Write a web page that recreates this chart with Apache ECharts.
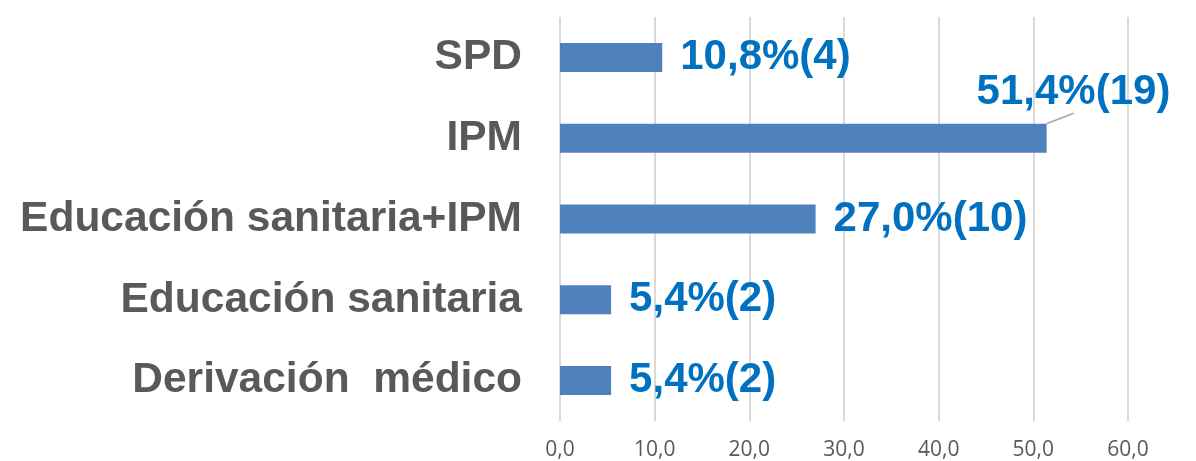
<!DOCTYPE html>
<html lang="es">
<head>
    <meta charset="UTF-8">
    <title>Intervenciones</title>
    <script src="https://cdn.jsdelivr.net/npm/echarts@6/dist/echarts.min.js"></script>
    <style>
        html, body { margin: 0; padding: 0; background: #fff; }
    </style>
</head>
<body>
<div id="chart" style="width: 1196px;height: 461px"></div>
<script type="text/javascript">
    // categorías de abajo hacia arriba
    var categories = ['Derivación  médico', 'Educación sanitaria', 'Educación sanitaria+IPM', 'IPM', 'SPD'];
    var percents = [5.4, 5.4, 27.0, 51.4, 10.8];
    var counts = [2, 2, 10, 19, 4];
    var xTicks = [0, 10, 20, 30, 40, 50, 60];
    var movedLabel = 3; // IPM: etiqueta desplazada con línea guía

    var chart = echarts.init(document.getElementById('chart'));

    function fmt(v, digits) {
        return v.toFixed(digits).replace('.', ',');
    }

    var barData = percents.map(function (v, i) {
        if (i === movedLabel) {
            return {value: v, labelLine: {show: true}};
        }
        return v;
    });

    var options = {
        animation: false,
        grid: {left: 560, right: 68, top: 17, bottom: 40},
        xAxis: {
            type: 'value',
            min: xTicks[0],
            max: xTicks[xTicks.length - 1],
            interval: 10,
            axisLine: {show: false},
            axisTick: {show: false},
            axisLabel: {
                color: '#595959',
                fontFamily: 'Open Sans',
                fontSize: 21,
                margin: 19,
                formatter: function (v) { return fmt(v, 1); }
            },
            splitLine: {lineStyle: {color: '#D9D9D9', width: 2}}
        },
        yAxis: {
            type: 'category',
            data: categories,
            axisLine: {show: false},
            axisTick: {show: false},
            axisLabel: {
                color: '#595959',
                fontFamily: 'Liberation Sans',
                fontWeight: 'bold',
                fontSize: 42.5,
                margin: 38
            }
        },
        series: [{
            type: 'bar',
            data: barData,
            barWidth: 29,
            itemStyle: {color: '#4F81BD'},
            label: {
                show: true,
                position: 'right',
                distance: 18,
                color: '#0070C0',
                fontFamily: 'Liberation Sans',
                fontWeight: 'bold',
                fontSize: 42,
                formatter: function (p) {
                    return fmt(p.value, 1) + '%(' + counts[p.dataIndex] + ')';
                }
            },
            labelLine: {
                show: false,
                lineStyle: {color: '#A6A6A6', width: 1.5}
            },
            labelLayout: function (params) {
                if (params.dataIndex === movedLabel) {
                    return {dx: -88, dy: -46};
                }
                return {};
            }
        }]
    };
    chart.setOption(options);
</script>
</body>
</html>
